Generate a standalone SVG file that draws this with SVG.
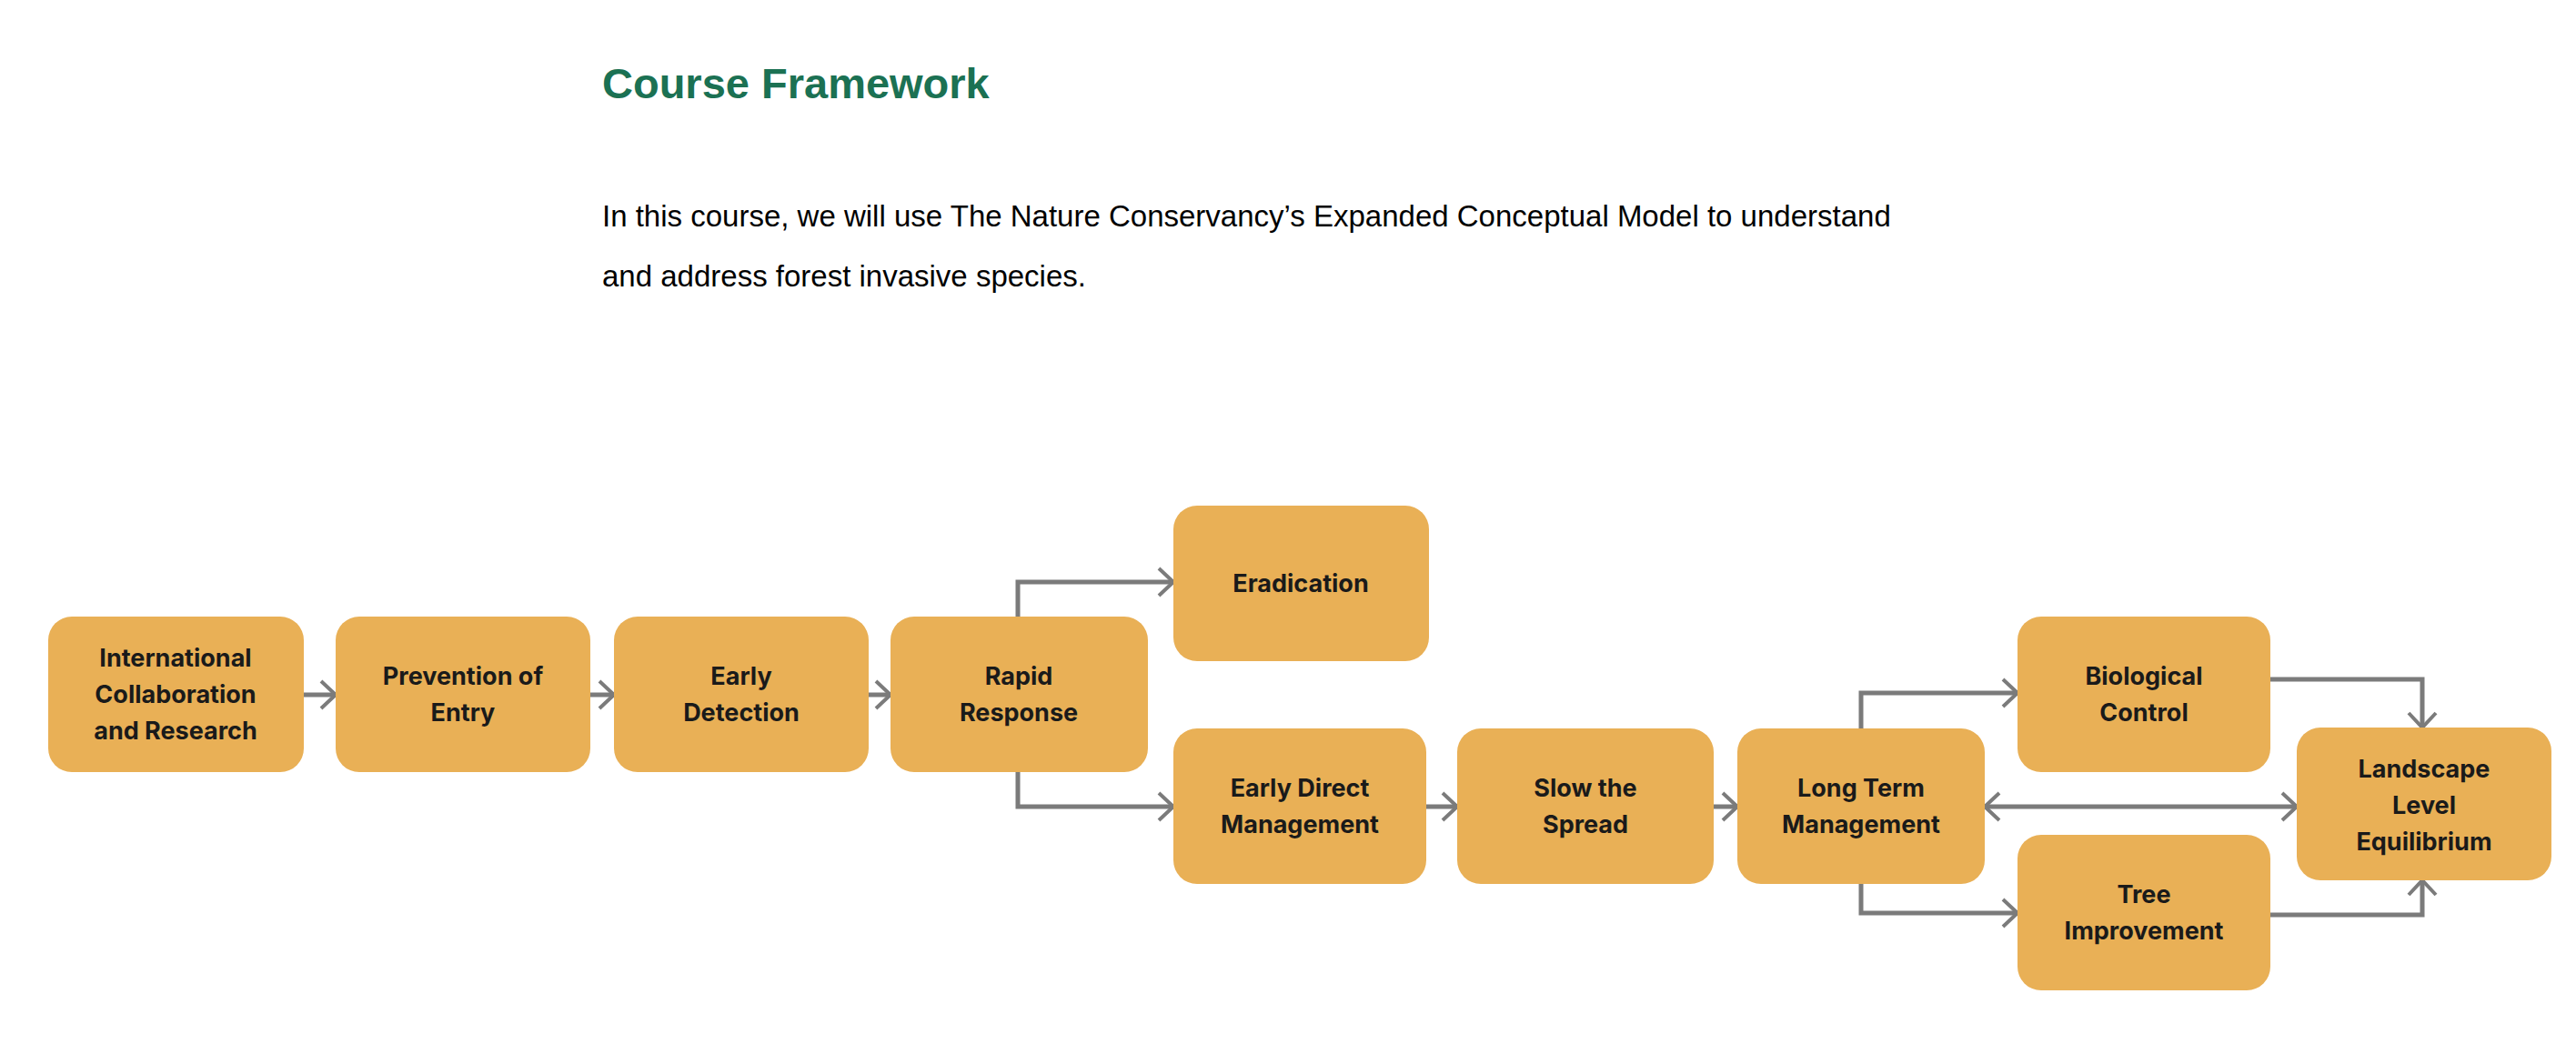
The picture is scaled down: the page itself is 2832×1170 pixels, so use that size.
<svg xmlns="http://www.w3.org/2000/svg" width="2832" height="1170" viewBox="0 0 2832 1170">
<style>
.n{fill:#E9B056}
.t{font-family:Inter,"Liberation Sans",sans-serif;font-weight:700;font-size:27px;fill:#1a1a1a;text-anchor:middle}
.c{fill:none;stroke:#7b7b7b;stroke-width:5}
</style>
<defs>
<marker id="a" markerUnits="userSpaceOnUse" markerWidth="24" markerHeight="36" refX="20" refY="18" orient="auto-start-reverse" viewBox="0 0 24 36">
<path d="M4,3 L20,18 L4,33" fill="none" stroke="#7b7b7b" stroke-width="4"/>
</marker>
</defs>
<rect width="2832" height="1170" fill="#fff"/>
<text x="662" y="108" font-family="'Liberation Sans',Arial,sans-serif" font-weight="700" font-size="47" fill="#1B7153">Course Framework</text>
<text font-family="'Liberation Sans',Arial,sans-serif" font-size="33" fill="#000"><tspan x="662" y="249">In this course, we will use The Nature Conservancy’s Expanded Conceptual Model to understand</tspan><tspan x="662" y="315">and address forest invasive species.</tspan></text>
<g id="connectors">
<path class="c" marker-end="url(#a)" d="M334,764 H369"/>
<path class="c" marker-end="url(#a)" d="M649,764 H675"/>
<path class="c" marker-end="url(#a)" d="M955,764 H979"/>
<path class="c" marker-end="url(#a)" d="M1119,678 V640 H1290"/>
<path class="c" marker-end="url(#a)" d="M1119,849 V887 H1290"/>
<path class="c" marker-end="url(#a)" d="M1568,887 H1602"/>
<path class="c" marker-end="url(#a)" d="M1884,887 H1910"/>
<path class="c" marker-end="url(#a)" d="M2046,801 V762 H2218"/>
<path class="c" marker-end="url(#a)" d="M2046,972 V1004 H2218"/>
<path class="c" marker-start="url(#a)" marker-end="url(#a)" d="M2182,887 H2525"/>
<path class="c" marker-end="url(#a)" d="M2496,747 H2663 V800"/>
<path class="c" marker-end="url(#a)" d="M2496,1006 H2663 V968"/>
</g>
<g id="n1"><rect class="n" x="53" y="678" width="281" height="171" rx="26"/><text class="t"><tspan x="193" y="733">International</tspan><tspan x="193" y="773">Collaboration</tspan><tspan x="193" y="813">and Research</tspan></text></g>
<g id="n2"><rect class="n" x="369" y="678" width="280" height="171" rx="26"/><text class="t"><tspan x="509" y="753">Prevention of</tspan><tspan x="509" y="793">Entry</tspan></text></g>
<g id="n3"><rect class="n" x="675" y="678" width="280" height="171" rx="26"/><text class="t"><tspan x="815" y="753">Early</tspan><tspan x="815" y="793">Detection</tspan></text></g>
<g id="n4"><rect class="n" x="979" y="678" width="283" height="171" rx="26"/><text class="t"><tspan x="1120" y="753">Rapid</tspan><tspan x="1120" y="793">Response</tspan></text></g>
<g id="n5"><rect class="n" x="1290" y="556" width="281" height="171" rx="26"/><text class="t" x="1430" y="651">Eradication</text></g>
<g id="n6"><rect class="n" x="1290" y="801" width="278" height="171" rx="26"/><text class="t"><tspan x="1429" y="876">Early Direct</tspan><tspan x="1429" y="916">Management</tspan></text></g>
<g id="n7"><rect class="n" x="1602" y="801" width="282" height="171" rx="26"/><text class="t"><tspan x="1743" y="876">Slow the</tspan><tspan x="1743" y="916">Spread</tspan></text></g>
<g id="n8"><rect class="n" x="1910" y="801" width="272" height="171" rx="26"/><text class="t"><tspan x="2046" y="876">Long Term</tspan><tspan x="2046" y="916">Management</tspan></text></g>
<g id="n9"><rect class="n" x="2218" y="678" width="278" height="171" rx="26"/><text class="t"><tspan x="2357" y="753">Biological</tspan><tspan x="2357" y="793">Control</tspan></text></g>
<g id="n10"><rect class="n" x="2218" y="918" width="278" height="171" rx="26"/><text class="t"><tspan x="2357" y="993">Tree</tspan><tspan x="2357" y="1033">Improvement</tspan></text></g>
<g id="n11"><rect class="n" x="2525" y="800" width="280" height="168" rx="26"/><text class="t"><tspan x="2665" y="855">Landscape</tspan><tspan x="2665" y="895">Level</tspan><tspan x="2665" y="935">Equilibrium</tspan></text></g>
</svg>
